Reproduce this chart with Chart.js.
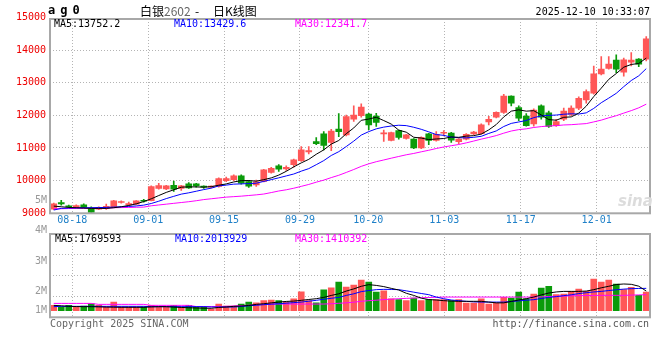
<!DOCTYPE html>
<html>
<head>
<meta charset="utf-8">
<script src="https://cdn.jsdelivr.net/npm/chart.js@4.4.1/dist/chart.umd.min.js"></script>
<style>
  body { margin: 0; background: #fff; }
  #box { position: relative; width: 660px; height: 360px; overflow: hidden; font-family: "DejaVu Sans Mono", monospace; font-size: 10px; }
  canvas { position: absolute; left: 0; }
  .txt { position: absolute; white-space: pre; line-height: 12px; }
  .cjk { font-family: "Noto Sans CJK SC", sans-serif; font-size: 12px; line-height: 14px; }
</style>
</head>
<body>
<div id="box">
  <canvas id="kChart" width="660" height="228" style="top:0"></canvas>
  <canvas id="volChart" width="660" height="170" style="top:190px"></canvas>

  <div class="txt" style="left:48px;top:3px;font-weight:bold;font-size:12px;line-height:14px;letter-spacing:-1.1px;">a g 0</div>
  <div class="txt cjk" style="left:140px;top:4px;">白银</div>
  <div class="txt cjk" style="left:164px;top:4px;color:#666;">2602</div>
  <div class="txt cjk" style="left:195px;top:4px;">-</div>
  <div class="txt cjk" style="left:213px;top:4px;">日K线图</div>
  <div class="txt" style="right:10px;top:6px;">2025-12-10 10:33:07</div>

  <div class="txt" id="pMa5" style="left:54px;top:18px;color:#000;"></div>
  <div class="txt" id="pMa10" style="left:174px;top:18px;color:#0000ff;"></div>
  <div class="txt" id="pMa30" style="left:295px;top:18px;color:#ff00ff;"></div>

  <div class="txt" id="vMa5" style="left:55px;top:233px;color:#000;"></div>
  <div class="txt" id="vMa10" style="left:175px;top:233px;color:#0000ff;"></div>
  <div class="txt" id="vMa30" style="left:295px;top:233px;color:#ff00ff;"></div>

  <div class="txt" style="left:618px;top:193px;font:italic bold 15px 'DejaVu Sans',sans-serif;line-height:16px;color:#dcdcdc;">sina</div>

  <div class="txt" style="left:50px;top:318px;color:#666;">Copyright 2025 SINA.COM</div>
  <div class="txt" style="right:11px;top:318px;color:#555;">http://finance.sina.com.cn</div>
</div>

<script>
// daily candles, 80 sessions (08-13 .. 12-10)
const opens = [9130,9330,9220,9180,9260,9160,9130,9140,9190,9330, 9260,9280,9400,9390,9760,9750,9860,9760,9900,9900,
  9830,9800,9820,10000,10030,10150,9970,9870,9980,10250, 10450,10360,10490,10610,10880,11200,11430,11170,11580,11400,
  11880,11990,12040,11980,11430,11230,11530,11290,11270,11000, 11430,11230,11450,11460,11190,11270,11430,11440,11800,11940,
  12090,12590,12240,11980,11740,12290,12080,11680,11880,12030, 12220,12470,12680,13270,13440,13690,13320,13630,13720,13720];
const highs = [9310,9400,9250,9260,9290,9200,9200,9280,9400,9380, 9340,9390,9430,9840,9920,9860,9990,9860,9940,9920,
  9840,9840,10090,10110,10180,10180,10000,10020,10350,10410, 10490,10450,10660,11045,11045,11320,11500,11570,12050,12010,
  12290,12350,12060,12060,11550,11490,11550,11420,11290,11340, 11450,11500,11530,11480,11290,11440,11510,11740,11970,12110,
  12640,12600,12290,12050,12200,12320,12130,11880,12220,12290, 12570,12780,13510,13800,13800,13850,13750,13920,13740,14410];
const lows = [9110,9250,9170,9160,9170,9010,9110,9120,9170,9310, 9250,9270,9340,9380,9740,9720,9670,9700,9760,9800,
  9760,9780,9800,9970,10000,9890,9790,9820,9960,10230, 10280,10310,10410,10590,10820,11100,10940,10920,11350,11370,
  11810,11940,11560,11660,11200,11220,11270,11270,10980,10980, 11100,11210,11370,11170,11130,11250,11410,11420,11710,11920,
  12060,12290,11840,11670,11670,11880,11630,11660,11840,11990, 12170,12370,12650,13240,13410,13310,13200,13510,13490,13670];
const closes = [9290,9290,9200,9240,9190,9030,9180,9210,9380,9350, 9300,9380,9370,9820,9850,9840,9740,9840,9780,9840,
  9800,9820,10060,10060,10150,9920,9830,9960,10330,10380, 10350,10410,10640,10940,10920,11130,11080,11520,11500,11960,
  12010,12250,11710,11780,11450,11470,11320,11400,11000,11330, 11230,11420,11470,11240,11270,11420,11490,11710,11880,12090,
  12590,12370,11910,11680,12160,11940,11660,11810,12130,12220, 12520,12730,13270,13420,13570,13410,13700,13690,13570,14340];

const ma5 = [9220,9200,9180,9170,9160,9150,9150,9150,9170,9200, 9240,9290,9360,9444,9544,9640,9720,9800,9810,9808,
  9800,9816,9860,9900,9960,10000,10004,9984,10030,10084, 10170,10286,10422,10544,10652,10808,10942,11118,11230,11438,
  11614,11848,11886,11942,11840,11732,11546,11484,11328,11304, 11256,11276,11290,11338,11326,11364,11378,11426,11554,11718,
  11952,12128,12168,12128,12142,12012,11870,11850,11940,11952, 12068,12282,12574,12832,13102,13280,13474,13558,13588,13752];
const ma10 = [9100,9150,9160,9165,9170,9170,9175,9180,9190,9200, 9210,9225,9250,9300,9370,9450,9520,9587,9627,9676,
  9726,9770,9839,9863,9893,9901,9910,9922,9977,10031, 10086,10145,10203,10291,10368,10489,10614,10770,10887,11045,
  11211,11395,11502,11586,11639,11673,11697,11685,11635,11572, 11494,11411,11387,11333,11315,11310,11327,11358,11446,11522,
  11658,11753,11797,11841,11930,11982,11999,12009,12034,12047, 12040,12076,12212,12386,12527,12674,12878,13066,13210,13430];
const ma30 = [9140,9140,9145,9150,9150,9155,9160,9165,9170,9175, 9180,9185,9190,9230,9255,9280,9305,9330,9355,9385,
  9420,9445,9470,9495,9510,9525,9545,9565,9590,9635, 9683,9720,9768,9825,9883,9953,10016,10093,10164,10251,
  10341,10437,10515,10580,10633,10688,10740,10792,10833,10883, 10930,10984,11031,11070,11107,11157,11213,11271,11323,11380,
  11454,11520,11562,11587,11628,11655,11674,11684,11705,11714, 11731,11747,11799,11853,11924,11989,12068,12144,12230,12342];

const vols = [500000,350000,500000,330000,430000,630000,500000,330000,800000,330000,
  330000,330000,330000,500000,330000,330000,500000,330000,500000,350000,
  350000,150000,610000,430000,430000,610000,800000,720000,920000,970000,
  920000,800000,1080000,1730000,920000,720000,1920000,2100000,2630000,2170000,
  2350000,2820000,2630000,1710000,1830000,1100000,1010000,920000,1160000,920000,
  1010000,1010000,1010000,920000,1010000,700000,700000,1100000,610000,700000,
  1220000,1160000,1710000,1100000,1530000,2080000,2240000,1470000,1530000,1770000,
  1990000,1770000,2910000,2630000,2820000,2450000,1930000,2150000,1410000,1710000];
const volMa5 = [490000,450000,400000,380000,370000,370000,350000,330000,320000,310000,
  310000,310000,310000,350000,370000,370000,330000,300000,270000,250000,
  230000,220000,300000,340000,400000,430000,480000,580000,640000,720000,
  790000,850000,880000,950000,1030000,1100000,1220000,1400000,1550000,1800000,
  2000000,2240000,2390000,2320000,2210000,2050000,1900000,1600000,1400000,1150000,
  1020000,980000,920000,880000,860000,860000,860000,860000,790000,720000,
  720000,850000,980000,1100000,1250000,1450000,1620000,1720000,1770000,1770000,
  1770000,1800000,1930000,2100000,2240000,2400000,2450000,2420000,2250000,1800000];
const volMa10 = [370000,400000,400000,400000,400000,400000,400000,400000,400000,400000,
  400000,400000,400000,370000,370000,370000,370000,370000,370000,370000,
  370000,340000,340000,340000,340000,380000,450000,500000,550000,600000,
  640000,690000,740000,790000,870000,950000,1050000,1140000,1220000,1400000,
  1550000,1750000,1850000,1930000,1960000,1950000,1930000,1820000,1700000,1580000,
  1470000,1250000,1100000,980000,920000,860000,810000,790000,790000,790000,
  790000,840000,900000,960000,1010000,1120000,1220000,1290000,1380000,1460000,
  1570000,1650000,1720000,1770000,1850000,1920000,1980000,2020000,2040000,2050000];
const volMa30 = [670000,670000,670000,670000,670000,670000,580000,580000,580000,580000,
  580000,580000,580000,490000,490000,490000,490000,490000,490000,380000,
  380000,380000,380000,400000,430000,460000,500000,540000,580000,600000,
  610000,610000,610000,610000,610000,610000,610000,640000,680000,720000,
  780000,860000,920000,960000,1020000,1060000,1100000,1130000,1160000,1190000,
  1210000,1230000,1250000,1250000,1250000,1250000,1250000,1250000,1250000,1250000,
  1250000,1250000,1250000,1250000,1250000,1270000,1300000,1320000,1340000,1360000,
  1380000,1390000,1400000,1410000,1410000,1410000,1410000,1430000,1450000,1470000];

// date ticks sit on the grid lines between sessions
const dateTicks = ['08-18','09-01','09-15','09-29','10-20','11-03','11-17','12-01'];
const dateTickAt = [2.47, 12.61, 22.7, 32.83, 41.94, 52.07, 62.26, 72.39];
const priceTicks = [9000, 10000, 11000, 12000, 13000, 14000, 15000];
const volTickLabels = ['5M','4M','3M','2M','1M'];
const volTickAt = [10160000, 7400000, 4560000, 1810000, 60000];
const priceMaText = ['MA5:13752.2', 'MA10:13429.6', 'MA30:12341.7'];
const volMaText = ['MA5:1769593', 'MA10:2013929', 'MA30:1410392'];

document.getElementById('pMa5').textContent = priceMaText[0];
document.getElementById('pMa10').textContent = priceMaText[1];
document.getElementById('pMa30').textContent = priceMaText[2];
document.getElementById('vMa5').textContent = volMaText[0];
document.getElementById('vMa10').textContent = volMaText[1];
document.getElementById('vMa30').textContent = volMaText[2];

const UP = '#ff5757';
const DOWN = '#0a9b0a';
const GRID = '#b4b4b4';
const candleColors = closes.map((c, i) => c >= opens[i] ? UP : DOWN);
const pts = arr => arr.map((v, i) => ({ x: i, y: v }));

Chart.defaults.font.family = '"DejaVu Sans Mono", monospace';
Chart.defaults.font.size = 10;

const frame = {
  id: 'frame',
  afterDraw(chart) {
    const a = chart.chartArea;
    const ctx = chart.ctx;
    ctx.save();
    ctx.strokeStyle = '#a8a8a8';
    ctx.lineWidth = 2;
    ctx.strokeRect(a.left, a.top, a.right - a.left, a.bottom - a.top);
    ctx.restore();
  }
};

function xAxis(showLabels, height) {
  return {
    type: 'linear',
    min: -0.5,
    max: 79.5,
    offset: false,
    afterBuildTicks: s => { s.ticks = dateTickAt.map(v => ({ value: v })); },
    afterFit: s => { s.height = height; },
    grid: { color: GRID, lineWidth: 1, drawTicks: false, offset: false },
    border: { display: false, dash: [1, 2] },
    ticks: {
      display: showLabels,
      autoSkip: false,
      maxRotation: 0,
      padding: 1,
      color: '#1f80c8',
      callback: (v, i) => dateTicks[i]
    }
  };
}

const lineSet = (data, color) => ({
  type: 'line', data: pts(data), borderColor: color, borderWidth: 1,
  pointRadius: 0, tension: 0, order: 0
});

const kConfig = {
  type: 'bar',
  data: {
    datasets: [
      {
        label: 'wick',
        data: lows.map((l, i) => ({ x: i, y: [l, highs[i]] })),
        backgroundColor: candleColors,
        barThickness: 1,
        grouped: false,
        order: 2
      },
      {
        label: 'body',
        data: opens.map((o, i) => ({ x: i, y: [o, closes[i]] })),
        backgroundColor: candleColors,
        barThickness: 6,
        minBarLength: 1,
        grouped: false,
        order: 1
      },
      lineSet(ma5, '#000000'),
      lineSet(ma10, '#0000ff'),
      lineSet(ma30, '#ff00ff')
    ]
  },
  options: {
    responsive: false,
    animation: false,
    layout: { padding: { top: 19, right: 10, left: 0, bottom: 0 } },
    plugins: { legend: { display: false }, tooltip: { enabled: false } },
    scales: {
      x: xAxis(true, 14.7),
      y: {
        min: 9000,
        max: 14950,
        afterBuildTicks: s => { s.ticks = priceTicks.map(v => ({ value: v })); },
        afterFit: s => { s.width = 50; },
        grid: {
          color: c => (c.tick && c.tick.value > 14950) ? 'rgba(0,0,0,0)' : GRID,
          lineWidth: 1,
          drawTicks: false
        },
        border: { display: false, dash: [1, 2] },
        ticks: { color: '#ee0000', padding: 4, autoSkip: false, callback: v => String(v) }
      }
    }
  },
  plugins: [frame]
};

new Chart(document.getElementById('kChart').getContext('2d'), kConfig);

const volMin = -606000;
const volMax = 7037000;

const volConfig = {
  type: 'bar',
  data: {
    datasets: [
      {
        label: 'vol',
        data: pts(vols),
        backgroundColor: candleColors,
        barThickness: 6,
        grouped: false,
        order: 1
      },
      lineSet(volMa5, '#000000'),
      lineSet(volMa10, '#0000ff'),
      lineSet(volMa30, '#ff00ff')
    ]
  },
  options: {
    responsive: false,
    animation: false,
    layout: { padding: { top: 44, right: 10, left: 0, bottom: 0 } },
    plugins: { legend: { display: false }, tooltip: { enabled: false } },
    scales: {
      x: xAxis(false, 42.7),
      y: {
        min: volMin,
        max: volMax,
        weight: 0,
        afterBuildTicks: s => {
          const step = (volMax - volMin) / 4;
          s.ticks = [1, 2, 3].map(k => ({ value: volMin + k * step }));
        },
        afterFit: s => { s.width = 0; },
        grid: { color: GRID, lineWidth: 1, drawTicks: false },
        border: { display: false, dash: [1, 2] },
        ticks: { display: false }
      },
      yl: {
        position: 'left',
        min: volMin,
        max: volMax,
        weight: 1,
        afterBuildTicks: s => { s.ticks = volTickAt.map(v => ({ value: v })); },
        afterFit: s => { s.width = 50; },
        grid: { display: false, drawTicks: false },
        border: { display: false },
        ticks: { color: '#999999', padding: 3, autoSkip: false, callback: (v, i) => volTickLabels[i] }
      }
    }
  },
  plugins: [frame]
};

new Chart(document.getElementById('volChart').getContext('2d'), volConfig);
</script>
</body>
</html>
